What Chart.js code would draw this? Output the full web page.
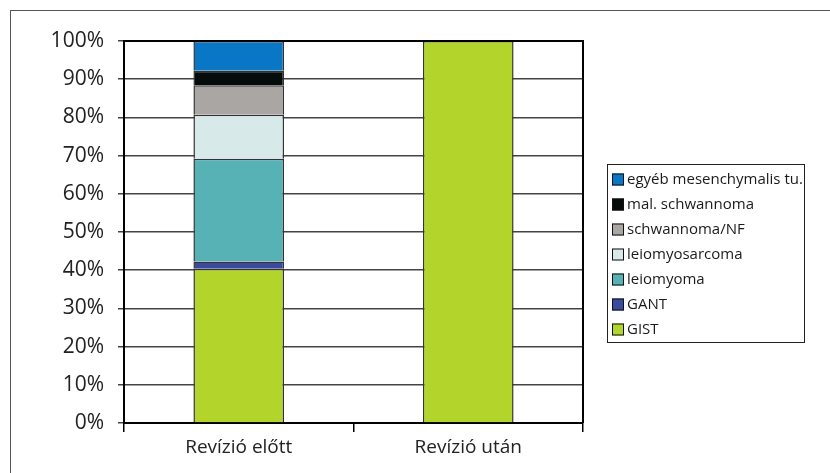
<!DOCTYPE html>
<html>
<head>
<meta charset="utf-8">
<script src="https://cdn.jsdelivr.net/npm/chart.js@4/dist/chart.umd.min.js"></script>
<style>
  html, body { margin: 0; padding: 0; background: #fff; overflow: hidden; }
  #frame { position: absolute; left: 10px; top: 10px; width: 900px; height: 600px; border-left: 1.5px solid #555; border-top: 1.5px solid #555; }
  #wrap { position: absolute; left: 0; top: 0; width: 830px; height: 473px; }
</style>
</head>
<body>
<div id="frame"></div>
<div id="wrap"><canvas id="c" width="830" height="473"></canvas></div>
<script>
const categories = ['Revízió előtt', 'Revízió után'];
const seriesNames = ['GIST', 'GANT', 'leiomyoma', 'leiomyosarcoma', 'schwannoma/NF', 'mal. schwannoma', 'egyéb mesenchymalis tu.'];
const gist = [40.4, 100];
const gant = [1.9, null];
const leiomyoma = [26.9, null];
const leiomyosarcoma = [11.5, null];
const schwannomaNF = [7.7, null];
const malSchwannoma = [3.8, null];
const egyeb = [7.8, null];
const yTicks = [0, 10, 20, 30, 40, 50, 60, 70, 80, 90, 100];
const seriesColors = ['#b2d42b', '#3a4a9f', '#56b2b4', '#d7e9e9', '#aaa6a3', '#060b0b', '#0a77c6'];

const seriesValues = [gist, gant, leiomyoma, leiomyosarcoma, schwannomaNF, malSchwannoma, egyeb];
const FONT = '"Open Sans", "Noto Sans", sans-serif';

const plotBorder = {
  id: 'plotBorder',
  afterDraw(chart) {
    const a = chart.chartArea, ctx = chart.ctx;
    ctx.save();
    ctx.strokeStyle = '#000';
    ctx.lineWidth = 2;
    ctx.beginPath();
    ctx.moveTo(a.left, a.top);
    ctx.lineTo(a.right, a.top);
    ctx.lineTo(a.right, a.bottom);
    ctx.stroke();
    ctx.restore();
  }
};

const customLegend = {
  id: 'customLegend',
  afterDraw(chart) {
    const ctx = chart.ctx;
    const boxL = 607, boxT = 164, boxW = 197, boxH = 178;
    const x0 = 612, firstY = 179.5, step = 25, sw = 12;
    ctx.save();
    ctx.strokeStyle = '#222';
    ctx.lineWidth = 1;
    ctx.strokeRect(boxL + 0.5, boxT + 0.5, boxW, boxH);
    ctx.font = '15px ' + FONT;
    ctx.textBaseline = 'middle';
    ctx.textAlign = 'left';
    const ds = chart.data.datasets;
    for (let i = ds.length - 1, k = 0; i >= 0; i--, k++) {
      const y = firstY + k * step;
      ctx.fillStyle = ds[i].backgroundColor;
      ctx.fillRect(x0, y - sw / 2, sw, sw);
      ctx.strokeStyle = '#111';
      ctx.lineWidth = 1;
      ctx.strokeRect(x0 + 0.5, y - sw / 2 + 0.5, sw - 1, sw - 1);
      ctx.fillStyle = '#1a1a1a';
      ctx.fillText(ds[i].label, x0 + sw + 3, y);
    }
    ctx.restore();
  }
};

new Chart(document.getElementById('c'), {
  type: 'bar',
  data: {
    labels: categories,
    datasets: seriesNames.map((n, i) => ({
      label: n,
      data: seriesValues[i],
      backgroundColor: seriesColors[i],
      borderColor: '#333',
      borderWidth: 1.5,
      categoryPercentage: 1,
      barPercentage: 0.395
    }))
  },
  options: {
    responsive: false,
    animation: false,
    layout: { padding: { top: 41, right: 247, bottom: 0, left: 0 } },
    plugins: { legend: { display: false }, tooltip: { enabled: false } },
    scales: {
      x: {
        stacked: true,
        afterFit(s) { s.height = 50; },
        grid: { offset: true, drawOnChartArea: false, drawTicks: true, tickLength: 9, color: '#000', lineWidth: 1.5 },
        border: { color: '#000', width: 2 },
        ticks: { color: '#222', font: { family: FONT, size: 19 }, padding: 4 }
      },
      y: {
        stacked: true,
        min: 0, max: 100,
        afterFit(s) { s.width = 124; },
        afterBuildTicks(s) { s.ticks = yTicks.map(v => ({ value: v })); },
        grid: { color: '#444', lineWidth: 1.5, tickLength: 6 },
        border: { color: '#000', width: 2 },
        ticks: { color: '#222', font: { family: FONT, size: 21 }, padding: 14, callback: v => v + '%' }
      }
    }
  },
  plugins: [plotBorder, customLegend]
});
</script>
</body>
</html>
